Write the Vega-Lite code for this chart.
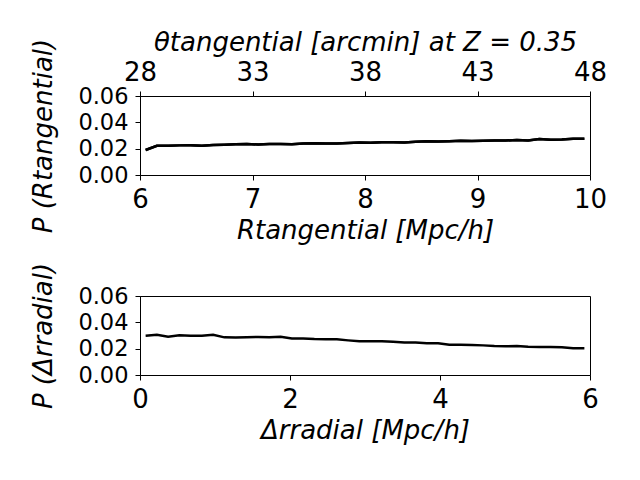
{
  "$schema": "https://vega.github.io/schema/vega-lite/v6.json",
  "background": "white",
  "padding": {"left": 30, "top": 28, "right": 20, "bottom": 10},
  "spacing": 17,
  "config": {
    "font": "DejaVu Sans",
    "view": {"stroke": "black", "strokeWidth": 1},
    "axis": {
      "grid": false,
      "domainColor": "black",
      "tickColor": "black",
      "labelColor": "black",
      "titleColor": "black",
      "labelFont": "DejaVu Sans",
      "titleFont": "DejaVu Sans",
      "labelFontSize": 26,
      "titleFontSize": 26,
      "titleFontWeight": "normal",
      "titleFontStyle": "italic",
      "tickSize": 5,
      "labelPadding": 6,
      "titlePadding": 5,
      "labelFlush": false,
      "labelOverlap": false
    },
    "axisY": {"titlePadding": 21, "labelFontSize": 22.5, "labelPadding": 7}
  },
  "datasets": {
    "tang": [
      {"R": 6.05, "P": 0.0190}, {"R": 6.15, "P": 0.0222}, {"R": 6.25, "P": 0.0223}, {"R": 6.35, "P": 0.0225},
      {"R": 6.45, "P": 0.0226}, {"R": 6.55, "P": 0.0223}, {"R": 6.65, "P": 0.0228}, {"R": 6.75, "P": 0.0230},
      {"R": 6.85, "P": 0.0233}, {"R": 6.95, "P": 0.0236}, {"R": 7.05, "P": 0.0231}, {"R": 7.15, "P": 0.0235},
      {"R": 7.25, "P": 0.0235}, {"R": 7.35, "P": 0.0233}, {"R": 7.45, "P": 0.0240}, {"R": 7.55, "P": 0.0241},
      {"R": 7.65, "P": 0.0240}, {"R": 7.75, "P": 0.0240}, {"R": 7.85, "P": 0.0243}, {"R": 7.95, "P": 0.0246},
      {"R": 8.05, "P": 0.0244}, {"R": 8.15, "P": 0.0248}, {"R": 8.25, "P": 0.0249}, {"R": 8.35, "P": 0.0247},
      {"R": 8.45, "P": 0.0253}, {"R": 8.55, "P": 0.0256}, {"R": 8.65, "P": 0.0254}, {"R": 8.75, "P": 0.0257},
      {"R": 8.85, "P": 0.0260}, {"R": 8.95, "P": 0.0259}, {"R": 9.05, "P": 0.0261}, {"R": 9.15, "P": 0.0262},
      {"R": 9.25, "P": 0.0262}, {"R": 9.35, "P": 0.0266}, {"R": 9.45, "P": 0.0262}, {"R": 9.55, "P": 0.0274},
      {"R": 9.65, "P": 0.0268}, {"R": 9.75, "P": 0.0269}, {"R": 9.85, "P": 0.0276}, {"R": 9.95, "P": 0.0275}
    ],
    "rad": [
      {"r": 0.075, "P": 0.0299}, {"r": 0.225, "P": 0.0306}, {"r": 0.375, "P": 0.0291}, {"r": 0.525, "P": 0.0301},
      {"r": 0.675, "P": 0.0299}, {"r": 0.825, "P": 0.0299}, {"r": 0.975, "P": 0.0306}, {"r": 1.125, "P": 0.0286},
      {"r": 1.275, "P": 0.0284}, {"r": 1.425, "P": 0.0286}, {"r": 1.575, "P": 0.0289}, {"r": 1.725, "P": 0.0286},
      {"r": 1.875, "P": 0.0291}, {"r": 2.025, "P": 0.0278}, {"r": 2.175, "P": 0.0278}, {"r": 2.325, "P": 0.0273},
      {"r": 2.475, "P": 0.0271}, {"r": 2.625, "P": 0.0271}, {"r": 2.775, "P": 0.0263}, {"r": 2.925, "P": 0.0256},
      {"r": 3.075, "P": 0.0256}, {"r": 3.225, "P": 0.0256}, {"r": 3.375, "P": 0.0253}, {"r": 3.525, "P": 0.0246},
      {"r": 3.675, "P": 0.0246}, {"r": 3.825, "P": 0.0241}, {"r": 3.975, "P": 0.0241}, {"r": 4.125, "P": 0.0230},
      {"r": 4.275, "P": 0.0230}, {"r": 4.425, "P": 0.0228}, {"r": 4.575, "P": 0.0225}, {"r": 4.725, "P": 0.0220},
      {"r": 4.875, "P": 0.0218}, {"r": 5.025, "P": 0.0220}, {"r": 5.175, "P": 0.0215}, {"r": 5.325, "P": 0.0213},
      {"r": 5.475, "P": 0.0213}, {"r": 5.625, "P": 0.0210}, {"r": 5.775, "P": 0.0203}, {"r": 5.925, "P": 0.0203}
    ]
  },
  "vconcat": [
    {
      "width": 450,
      "height": 79,
      "data": {"name": "tang"},
      "resolve": {"axis": {"x": "independent"}},
      "encoding": {
        "y": {"field": "P", "type": "quantitative", "scale": {"domain": [0, 0.06], "nice": false},
              "axis": {"values": [0, 0.02, 0.04, 0.06], "format": ".2f", "title": "P (Rtangential)"}}
      },
      "layer": [
        {
          "mark": {"type": "line", "color": "black", "strokeWidth": 2.5},
          "encoding": {
            "x": {"field": "R", "type": "quantitative", "scale": {"domain": [6, 10], "nice": false, "zero": false},
                  "axis": {"values": [6, 7, 8, 9, 10], "format": "d", "title": "Rtangential [Mpc/h]"}}
          }
        },
        {
          "mark": {"type": "line", "color": "black", "strokeWidth": 2.5},
          "encoding": {
            "x": {"field": "R", "type": "quantitative", "scale": {"domain": [6, 10], "nice": false, "zero": false},
                  "axis": {"orient": "top", "values": [6, 7, 8, 9, 10], "labelExpr": "format(datum.value * 5 - 2, 'd')",
                           "title": "θtangential [arcmin] at Z = 0.35", "titlePadding": 4}}
          }
        }
      ]
    },
    {
      "width": 450,
      "height": 79,
      "data": {"name": "rad"},
      "mark": {"type": "line", "color": "black", "strokeWidth": 2.5},
      "encoding": {
        "x": {"field": "r", "type": "quantitative", "scale": {"domain": [0, 6], "nice": false},
              "axis": {"values": [0, 2, 4, 6], "format": "d", "title": "Δrradial [Mpc/h]"}},
        "y": {"field": "P", "type": "quantitative", "scale": {"domain": [0, 0.06], "nice": false},
              "axis": {"values": [0, 0.02, 0.04, 0.06], "format": ".2f", "title": "P (Δrradial)"}}
      }
    }
  ]
}
